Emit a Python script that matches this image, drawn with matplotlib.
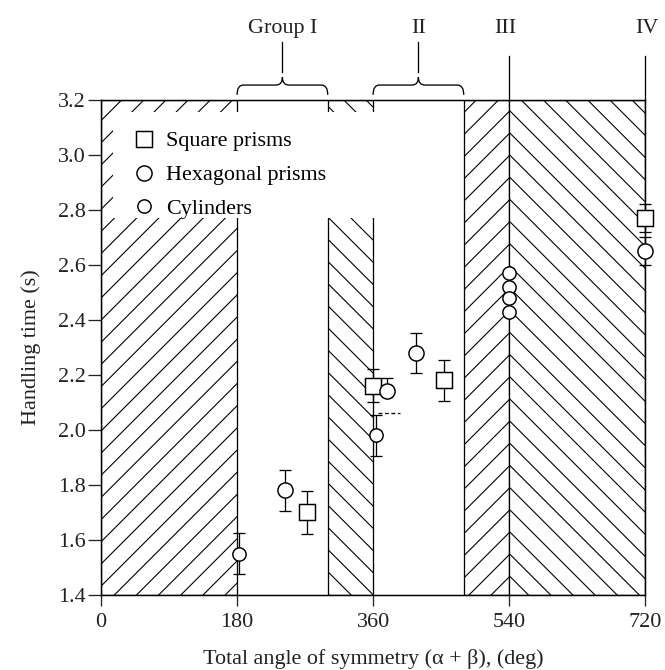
import matplotlib.pyplot as plt
from matplotlib.path import Path
from matplotlib.patches import PathPatch, Rectangle
from matplotlib.ticker import FormatStrFormatter

plt.rcParams['font.family'] = ['Liberation Serif', 'DejaVu Serif']
plt.rcParams['hatch.linewidth'] = 0.6

# hatched zones (deg)
zona_ini = [0, 300, 480, 540]
zona_fin = [180, 360, 540, 720]
zona_hatch = ['//', '\\\\', '//', '\\\\']

# datos
sq_x = [272, 360, 454, 720]
sq_y = [1.70, 2.16, 2.18, 2.77]
sq_err = [0.077, 0.06, 0.075, 0.05]

hex_x = [243, 378, 417, 720]
hex_y = [1.78, 2.14, 2.28, 2.65]
hex_err_lo = [0.075, 0.0, 0.072, 0.05]
hex_err_hi = [0.075, 0.05, 0.072, 0.05]

cyl_x = [182, 364, 540, 540, 540, 540]
cyl_y = [1.55, 1.98, 2.57, 2.52, 2.48, 2.43]
cyl_err = [0.075, 0.075, 0, 0, 0, 0]

grupos = ['Group I', 'II', 'III', 'IV']
grupos_x = [240, 420, 535, 722]
llaves = [(180, 300), (360, 480)]

fig = plt.figure(figsize=(5.0, 670 / 133), dpi=133)
ax = fig.add_axes([0.152, 0.112, 0.818, 0.739])

for a, b, h in zip(zona_ini, zona_fin, zona_hatch):
    ax.axvspan(a, b, facecolor='white', edgecolor='black', hatch=h, linewidth=0.7, zorder=1)

# fondo blanco de la leyenda
ax.add_patch(Rectangle((16, 2.77), 350, 0.385, facecolor='white', edgecolor='none', zorder=1.5))

# tapa discontinua
ax.hlines(2.06, 366, 396, colors='black', linewidth=0.7, linestyles=(0, (3, 2)), zorder=3)

ek = dict(fmt='none', ecolor='black', elinewidth=0.7, capsize=3, capthick=0.7, zorder=3, clip_on=False)
ax.errorbar(sq_x, sq_y, yerr=sq_err, **ek)
ax.errorbar(hex_x, hex_y, yerr=[hex_err_lo, hex_err_hi], **ek)
ax.errorbar(cyl_x, cyl_y, yerr=cyl_err, **ek)

mk = dict(linestyle='none', markerfacecolor='white', markeredgecolor='black', markeredgewidth=0.8, zorder=4, clip_on=False)
h1, = ax.plot(sq_x, sq_y, marker='s', markersize=9, label='Square prisms', **mk)
h2, = ax.plot(hex_x, hex_y, marker='o', markersize=8.2, label='Hexagonal prisms', **mk)
h3, = ax.plot(cyl_x, cyl_y, marker='o', markersize=7.2, label='Cylinders', **mk)

ax.legend(handles=[h1, h2, h3], loc='upper left', bbox_to_anchor=(0.042, 0.955), frameon=False,
          fontsize=12, handlelength=1, handletextpad=0.5, labelspacing=0.6, borderaxespad=0)

ax.set_xlim(0, 720)
ax.set_ylim(1.4, 3.2)
ax.set_xticks([0, 180, 360, 540, 720])
ax.set_yticks([1.4, 1.6, 1.8, 2.0, 2.2, 2.4, 2.6, 2.8, 3.0, 3.2])
ax.yaxis.set_major_formatter(FormatStrFormatter('%.1f'))
ax.tick_params(axis='y', direction='out', length=7, width=0.7, pad=1.5, labelsize=12, colors='#222222')
ax.tick_params(axis='x', direction='out', length=6, width=0.7, pad=4, labelsize=12, colors='#222222')
for s in ax.spines.values():
    s.set_linewidth(0.8)

ax.set_xlabel('Total angle of symmetry (\u03b1 + \u03b2), (deg)', fontsize=12, labelpad=9, color='#222222')
ax.set_ylabel('Handling time (s)', fontsize=12, labelpad=9, color='#222222')

# llaves de grupos
def llave(ax, x0, x1, yb, h):
    xm = (x0 + x1) / 2
    r = (x1 - x0) * 0.07
    y1 = yb + h * 0.55
    y2 = yb + h
    verts = [(x0, yb), (x0, y1), (x0 + r, y1), (xm - r, y1), (xm, y1), (xm, y2),
             (xm, y1), (xm + r, y1), (x1 - r, y1), (x1, y1), (x1, yb)]
    codes = [Path.MOVETO, Path.CURVE3, Path.CURVE3, Path.LINETO, Path.CURVE3, Path.CURVE3,
             Path.CURVE3, Path.CURVE3, Path.LINETO, Path.CURVE3, Path.CURVE3]
    ax.add_patch(PathPatch(Path(verts, codes), fill=False, edgecolor='black', linewidth=0.7,
                           clip_on=False, transform=ax.transData))

for a, b in llaves:
    llave(ax, a, b, 3.218, 0.065)
    ax.plot([(a + b) / 2] * 2, [3.30, 3.41], color='black', linewidth=0.7, clip_on=False)

for xv in [540, 720]:
    ax.plot([xv, xv], [3.2, 3.36], color='black', linewidth=0.7, clip_on=False)

for g, xg in zip(grupos, grupos_x):
    ax.text(xg, 3.46, g, ha='center', va='center', fontsize=12, color='#222222')

plt.savefig('out.png', dpi=133)
